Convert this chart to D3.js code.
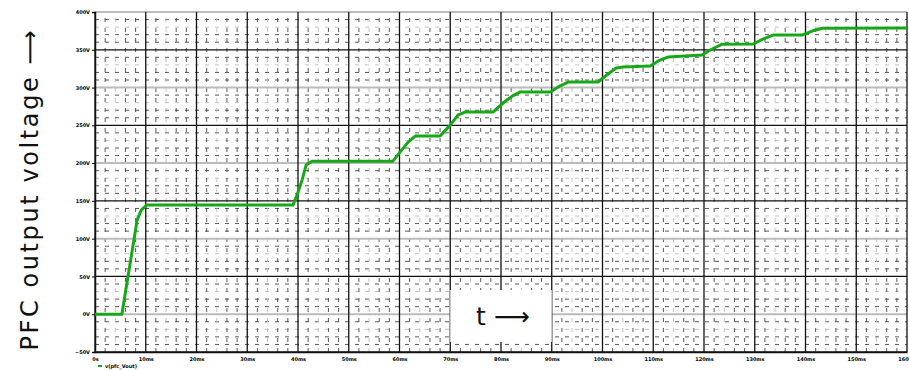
<!DOCTYPE html>
<html>
<head>
<meta charset="utf-8">
<script src="https://cdn.jsdelivr.net/npm/d3@7"></script>
<style>
  body { margin: 0; background: #fff; }
  svg { display: block; }
</style>
</head>
<body>
<svg id="chart" width="909" height="370"></svg>
<script>
// time (ms) and PFC output voltage (V)
const timeMs = [0, 5.3, 8.3, 9.1, 10.2, 39.0, 39.8, 40.8, 41.6, 42.8, 58.7, 60.1, 61.7, 63.1, 68.0, 70.0, 71.5, 72.9,
  78.4, 80.4, 82.2, 83.7, 89.7, 91.6, 93.2, 99.1, 101.1, 102.7, 104.0, 109.4, 111.3, 112.9, 119.6, 121.6, 123.5,
  129.7, 131.6, 133.6, 139.3, 141.3, 143.3, 160];
const voltage = [0, 0, 124.5, 137.7, 144.4, 144.4, 157.6, 177.5, 197.4, 202.6, 202.6, 214.6, 227.8, 235.8, 235.8, 250.3, 263.6, 267.5,
  267.5, 279.5, 288.7, 294, 294, 302, 307.3, 307.3, 317.9, 325.8, 327.2, 328.5, 336.4, 340.4, 343, 351, 357.2,
  357.6, 364.2, 369.5, 369.5, 374.8, 378.4, 378.8];

const xTicks = d3.range(0, 161, 10);
const yTicks = d3.range(-50, 401, 50);
const xMinor = d3.range(0, 161, 2).filter(d => d % 10 !== 0);
const yMinor = d3.range(-50, 401, 10).filter(d => d % 50 !== 0);

const svg = d3.select("#chart");
const x = d3.scaleLinear().domain([0, 160]).range([95, 907]);
const y = d3.scaleLinear().domain([-50, 400]).range([352, 12]);

// minor grid
const grid = svg.append("g");
grid.selectAll("line.hm")
  .data(yMinor)
  .enter().append("line")
  .attr("x1", x(0)).attr("x2", x(160))
  .attr("y1", d => y(d)).attr("y2", d => y(d))
  .attr("stroke", (d, i) => i % 4 === 2 ? "#bbb" : "#444")
  .attr("stroke-width", 0.9)
  .attr("stroke-dasharray", "4,6");
grid.selectAll("line.vm")
  .data(xMinor)
  .enter().append("line")
  .attr("y1", y(-50)).attr("y2", y(400))
  .attr("x1", d => x(d)).attr("x2", d => x(d))
  .attr("stroke", (d, i) => i % 4 === 1 ? "#bbb" : "#444")
  .attr("stroke-width", 0.9)
  .attr("stroke-dasharray", "4,6");

// major grid
grid.selectAll("line.hM")
  .data(yTicks)
  .enter().append("line")
  .attr("x1", x(0)).attr("x2", x(160))
  .attr("y1", d => y(d)).attr("y2", d => y(d))
  .attr("stroke", d => d % 100 === 0 ? "#bbb" : "#111")
  .attr("stroke-width", d => d % 100 === 0 ? 2 : 1.3);
grid.selectAll("line.vM")
  .data(xTicks)
  .enter().append("line")
  .attr("y1", y(-50)).attr("y2", y(400))
  .attr("x1", d => x(d)).attr("x2", d => x(d))
  .attr("stroke", "#111")
  .attr("stroke-width", 1.3);

// axes
svg.append("g")
  .attr("transform", "translate(0," + y(-50) + ")")
  .call(d3.axisBottom(x).tickValues(xTicks).tickSize(0).tickPadding(5)
    .tickFormat(d => d === 0 ? "0s" : d + "ms"))
  .call(g => g.select(".domain").attr("stroke", "#111").attr("stroke-width", 1.5));
svg.append("g")
  .attr("transform", "translate(" + x(0) + ",0)")
  .call(d3.axisLeft(y).tickValues(yTicks).tickSize(3).tickPadding(2)
    .tickFormat(d => (d < 0 ? "\u2212" + (-d) : d) + "V"))
  .call(g => g.select(".domain").attr("stroke", "#111").attr("stroke-width", 1.5));
svg.selectAll(".tick text")
  .attr("font-family", "DejaVu Sans")
  .attr("font-size", 5)
  .attr("font-weight", "bold")
  .attr("fill", "#000");

// trace
const line = d3.line().x((d, i) => x(timeMs[i])).y(d => y(d));
svg.append("path")
  .datum(voltage)
  .attr("d", line)
  .attr("fill", "none")
  .attr("stroke", "#16a816")
  .attr("stroke-width", 3)
  .attr("stroke-linejoin", "round");

// legend
svg.append("rect").attr("x", 98).attr("y", 365).attr("width", 4).attr("height", 2).attr("fill", "#16a816");
svg.append("text").attr("x", 105).attr("y", 367.5)
  .attr("font-family", "DejaVu Sans").attr("font-size", 5).attr("font-weight", "bold")
  .text("v(pfc_Vout)");

// time label box
svg.append("rect")
  .attr("x", x(70)).attr("y", 290)
  .attr("width", x(90) - x(70)).attr("height", 52)
  .attr("fill", "#fff");
svg.append("text")
  .attr("x", 476).attr("y", 325)
  .attr("font-family", "DejaVu Sans").attr("font-size", 25)
  .attr("fill", "#111")
  .text("t \u27F6");

// y label
svg.append("text")
  .attr("transform", "translate(38,189) rotate(-90)")
  .attr("text-anchor", "middle")
  .attr("font-family", "DejaVu Sans").attr("font-size", 24)
  .attr("letter-spacing", 2.6)
  .attr("fill", "#111")
  .text("PFC output voltage \u27F6");
</script>
</body>
</html>
